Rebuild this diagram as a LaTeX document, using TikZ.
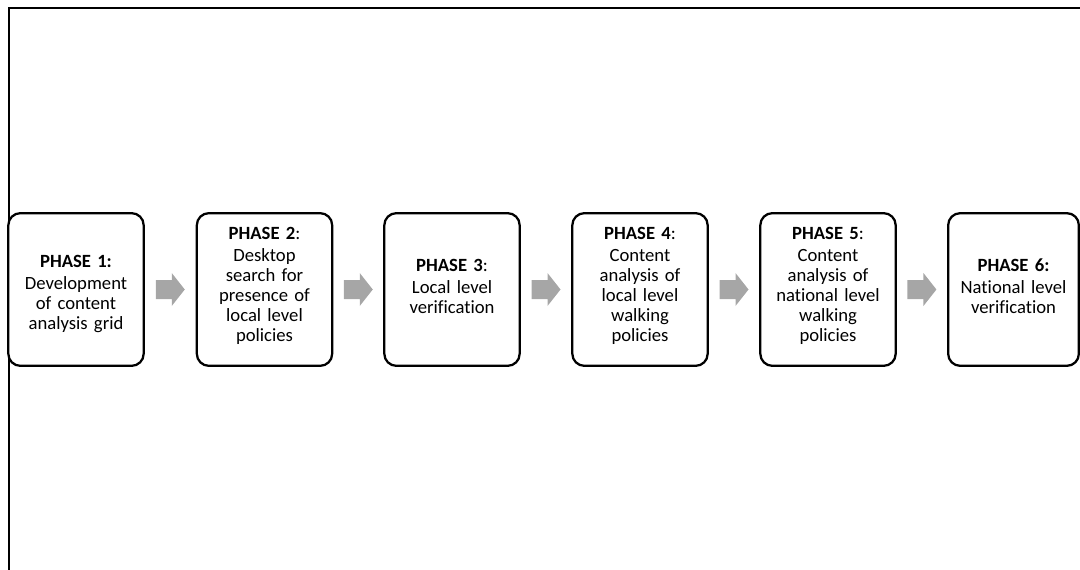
\documentclass[tikz,border=0pt]{standalone}
\usepackage{fontspec}
\setmainfont[Ligatures=NoCommon]{Carlito}
\usetikzlibrary{calc}
\definecolor{arrowgray}{HTML}{A6A6A6}
\tikzset{
  phasebox/.style={draw=black, line width=1.7pt, rounded corners=9pt, fill=white,
    minimum width=101.5pt, minimum height=114.5pt, inner sep=0pt},
  phasetext/.style={align=center, text width=96pt, inner sep=0pt,
    font=\fontsize{14}{15}\selectfont},
  frameline/.style={line width=1.5pt, black},
  blockarrow/.style={fill=arrowgray, draw=none}
}
\newcommand{\phasehead}[2]{\textbf{PHASE #1}#2\\[1.5pt]}
\begin{document}
\begin{tikzpicture}[x=0.75pt,y=-0.75pt]
  \useasboundingbox (0,0) rectangle (1080,570);
  % open frame: top and left sides
  \coordinate (ftl) at (9,8);
  \coordinate (ftr) at (1080,8);
  \coordinate (fbl) at (9,570);
  \draw[frameline] (ftr) -- (ftl) -- (fbl);

  % phase boxes
  \node[phasebox] (p1) at (76,289.5) {};
  \node[phasebox] (p2) at (264.5,289.5) {};
  \node[phasebox] (p3) at (452,289.5) {};
  \node[phasebox] (p4) at (640,289.5) {};
  \node[phasebox] (p5) at (828,289.5) {};
  \node[phasebox, minimum width=98pt] (p6) at (1013.5,289.5) {};

  % box texts
  \node[phasetext] (t1) at ($(p1)+(0,4)$) {\phasehead{1:}{}Development\\of content\\analysis grid};
  \node[phasetext] (t2) at ($(p2)+(0,-4)$) {\phasehead{2}{:}Desktop\\search for\\presence of\\local level\\policies};
  \node[phasetext] (t3) at ($(p3)+(0,-3)$) {\phasehead{3}{:}Local level\\verification};
  \node[phasetext] (t4) at ($(p4)+(0,-4)$) {\phasehead{4}{:}Content\\analysis of\\local level\\walking\\policies};
  \node[phasetext] (t5) at ($(p5)+(0,-4)$) {\phasehead{5}{:}Content\\analysis of\\national level\\walking\\policies};
  \node[phasetext] (t6) at ($(p6)+(0,-3)$) {\phasehead{6:}{}National level\\verification};

  % grey block arrows between consecutive phases
  \foreach \a/\b in {p1/p2,p2/p3,p3/p4,p4/p5,p5/p6}{
    \coordinate (m) at ($(\a.east)!0.5!(\b.west)$);
    \fill[blockarrow] ($(m)+(-14.5,-9.5)$) -- ($(m)+(1.5,-9.5)$) -- ($(m)+(1.5,-16.5)$)
      -- ($(m)+(14.5,0)$) -- ($(m)+(1.5,16.5)$) -- ($(m)+(1.5,9.5)$)
      -- ($(m)+(-14.5,9.5)$) -- cycle;
  }
\end{tikzpicture}
\end{document}
